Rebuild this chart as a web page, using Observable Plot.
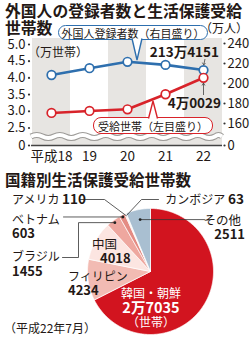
<!DOCTYPE html>
<html><head><meta charset="utf-8">
<script src="https://cdn.jsdelivr.net/npm/d3@7"></script>
<script src="https://cdn.jsdelivr.net/npm/@observablehq/plot@0.6"></script>
<style>
body{margin:0;background:#fff;}
#root{position:relative;width:252px;height:337px;overflow:hidden;font-family:"Noto Sans CJK JP","Noto Sans",sans-serif;color:#231815;}
.abs{position:absolute;white-space:nowrap;line-height:1;}
.box{position:absolute;background:#fff;border-radius:8px;box-sizing:border-box;font-size:11px;display:flex;align-items:center;justify-content:center;white-space:nowrap;}
</style></head><body><div id="root"></div>
<script>
// ---- data ----
const years = ["平成18", "19", "20", "21", "22"];
const welfare = [2.95, 3.01, 3.06, 3.51, 4.0029];            // 受給世帯 (万世帯, left axis)
const registrants = [208.5, 215.3, 221.7, 218.6, 213.4151];   // 外国人登録者数 (万人, right axis)
const leftTicks = [2.5, 3.0, 3.5, 4.0, 4.5, 5.0];
const rightTicks = [160, 180, 200, 220, 240];
const countries = ["韓国・朝鮮", "フィリピン", "中国", "ブラジル", "ベトナム", "アメリカ", "カンボジア", "その他"];
const households = [27035, 4234, 4018, 1455, 603, 110, 63, 2511];
const sliceColors = ["#d2141f", "#f2bbb3", "#fce5e1", "#eea79f", "#e48b83", "#f6d2cc", "#fbe6e2", "#a9bfd1"];

const BLUE = "#2e6fae", RED = "#d8232a", INK = "#231815", STRIPE = "#e7e5e2";
const root = document.getElementById("root");

// ---- line chart (broken dual axis) ----
const pxOfL = d3.scaleLinear([5.0, 2.5], [44, 127.5]);
const pxOfR = d3.scaleLinear([240, 160], [43, 123]);
const rToL = r => pxOfL.invert(pxOfR(r));
const yBottom = pxOfL.invert(145), yTop = pxOfL.invert(38), yWave = pxOfL.invert(136.5);
const leftTickVals = [yBottom, ...leftTicks];
const rightTickVals = [yBottom, ...rightTicks.map(rToL)];
const rLabel = new Map(rightTickVals.map((v, i) => [v, i === 0 ? "0" : String(rightTicks[i - 1])]));
const rows = years.map((y, i) => ({year: y, welfare: welfare[i], reg: rToL(registrants[i])}));

function waveMark(index, scales, values, dims) {
  const x0 = dims.marginLeft, x1 = dims.width - dims.marginRight;
  const y = scales.y(yWave), step = 11.5, amp = 3;
  let d = `M${x0},${y}`, k = 0;
  for (let x = x0; x < x1; x += step, k++) {
    const xe = Math.min(x + step, x1);
    d += ` Q${(x + xe) / 2},${y + (k % 2 ? amp : -amp)} ${xe},${y}`;
  }
  const g = d3.create("svg:g");
  g.append("path").attr("d", d).attr("fill", "none").attr("stroke", "#9d9b98").attr("stroke-width", 6);
  g.append("path").attr("d", d).attr("fill", "none").attr("stroke", "#fff").attr("stroke-width", 4);
  return g.node();
}

const chart1 = Plot.plot({
  width: 252, height: 165, marginTop: 38, marginBottom: 20, marginLeft: 31, marginRight: 30,
  x: {type: "band", domain: years, padding: 0, label: null},
  y: {domain: [yBottom, yTop], label: null},
  style: {fontFamily: '"Noto Sans CJK JP", sans-serif', fontSize: "13px", color: INK, background: "transparent"},
  marks: [
    Plot.barY(years.filter((d, i) => i % 2 === 0), {x: d => d, y1: yWave, y2: yTop, fill: STRIPE}),
    Plot.barY(years, {x: d => d, y1: yBottom, y2: yWave, fill: STRIPE}),
    waveMark,
    Plot.ruleY([yBottom], {stroke: "#444", strokeWidth: 1.3}),
    Plot.axisY({ticks: leftTickVals, tickSize: 0, tickPadding: 6, fontSize: 13, fill: INK,
      tickFormat: d => d === yBottom ? "0" : d3.format(".1f")(d), label: null}),
    Plot.dot(leftTickVals, {y: d => d, frameAnchor: "left", dx: -2.5, r: 1.1, fill: "#333"}),
    Plot.axisY({anchor: "right", ticks: rightTickVals, tickSize: 0, tickPadding: 5, fontSize: 13, fill: INK,
      tickFormat: d => rLabel.get(d), label: null}),
    Plot.dot(rightTickVals, {y: d => d, frameAnchor: "right", dx: 2, r: 1.1, fill: "#333"}),
    Plot.axisX({tickSize: 0, tickPadding: 6, fontSize: 13.5, fill: INK, label: null}),
    Plot.line(rows, {x: "year", y: "reg", stroke: BLUE, strokeWidth: 2.6}),
    Plot.dot(rows, {x: "year", y: "reg", r: 4.3, fill: "#fff", stroke: BLUE, strokeWidth: 1.7}),
    Plot.line(rows, {x: "year", y: "welfare", stroke: RED, strokeWidth: 2.6}),
    Plot.dot(rows, {x: "year", y: "welfare", r: 4.3, fill: "#fff", stroke: RED, strokeWidth: 1.7})
  ]
});
chart1.style.position = "absolute"; chart1.style.left = "0px"; chart1.style.top = "0px";
root.appendChild(chart1);

// ---- pie chart ----
const PIE_TOP = 165, CX = 150, CY = 106, R = 63;
const pieData = countries.map((c, i) => ({country: c, value: households[i], color: sliceColors[i]}));
const arcs = d3.pie().sort(null).value(d => d.value)(pieData);
const pt = (a, f) => ({x: CX + R * f * Math.sin(a), y: CY - R * f * Math.cos(a)});
const slicePolys = arcs.map(a => {
  const pts = [{x: CX, y: CY}];
  const n = Math.max(2, Math.ceil((a.endAngle - a.startAngle) / 0.01));
  for (let k = 0; k <= n; k++) pts.push(pt(a.startAngle + (a.endAngle - a.startAngle) * k / n, 1));
  pts.push({x: CX, y: CY});
  return {color: a.data.color, pts};
});
const mid = name => { const a = arcs.find(d => d.data.country === name); return (a.startAngle + a.endAngle) / 2; };
const pV = pt(mid("ベトナム"), 0.97), pB = pt(mid("ブラジル"), 0.96), pO = pt(mid("その他"), 0.84);
const pA = pt(mid("アメリカ"), 0.97), pK = pt(mid("カンボジア"), 0.97);
const leaders = [
  [{x: 80, y: 34}, {x: 104, y: 34}, pA],
  [{x: 158, y: 34}, {x: 141, y: 34}, pK],
  [{x: 63, y: pV.y}, pV],
  [{x: 62, y: 92}, {x: 78, y: 92}, {x: 78, y: pB.y}, pB],
  [{x: 204, y: pO.y}, pO]
];
const chart2 = Plot.plot({
  width: 252, height: 172, margin: 0,
  x: {domain: [0, 252], range: [0, 252], axis: null},
  y: {domain: [0, 172], range: [0, 172], axis: null},
  style: {background: "transparent"},
  marks: [
    ...slicePolys.map(s => Plot.line(s.pts, {x: "x", y: "y", fill: s.color, stroke: "#fff", strokeWidth: 0.7, strokeLinejoin: "round"})),
    ...leaders.map(l => Plot.line(l, {x: "x", y: "y", stroke: "#333", strokeWidth: 0.8})),
    Plot.dot([pV, pB, pO], {x: "x", y: "y", r: 1.4, fill: "#222"})
  ]
});
chart2.style.position = "absolute"; chart2.style.left = "0px"; chart2.style.top = PIE_TOP + "px";
root.appendChild(chart2);

// ---- text ----
function label(html, x, y, o = {}) {
  const d = document.createElement("div");
  d.className = "abs"; d.innerHTML = html;
  const tx = o.anchor === "middle" ? "-50%" : o.anchor === "end" ? "-100%" : "0";
  Object.assign(d.style, {left: x + "px", top: y + "px", transform: `translate(${tx},-50%)`,
    fontSize: (o.size || 12) + "px", fontWeight: o.weight || 400, color: o.color || INK, textAlign: o.align || "left",
    lineHeight: o.lh || 1});
  root.appendChild(d); return d;
}
function box(text, x, y, w, h, color) {
  const d = document.createElement("div");
  d.className = "box"; d.textContent = text;
  Object.assign(d.style, {left: x + "px", top: y + "px", width: w + "px", height: h + "px", border: `1.4px solid ${color}`, color: INK});
  root.appendChild(d);
}
label("外国人の登録者数と生活保護受給", 5, 11, {size: 15.8, weight: 700});
label("世帯数", 5, 28, {size: 15.8, weight: 700});
label("（万人）", 248, 28, {size: 12, anchor: "end"});
label("（万世帯）", 28, 52, {size: 12});
box("外国人登録者数（右目盛り）", 58, 25, 150, 15, BLUE);
box("受給世帯（左目盛り）", 93, 117, 120, 17, RED);
label("213万4151", 219, 52, {size: 13.5, weight: 700, anchor: "end"});
label("4万0029", 221, 103, {size: 13.5, weight: 700, anchor: "end"});

label("国籍別生活保護受給世帯数", 5, 180, {size: 15.5, weight: 700});
label('アメリカ <b style="font-size:13.5px">110</b>', 12, 199, {size: 12});
label('カンボジア <b style="font-size:13.5px">63</b>', 244, 199, {size: 12, anchor: "end"});
label("ベトナム", 12, 219, {size: 12});
label("603", 12, 232, {size: 13, weight: 700});
label("ブラジル", 12, 256, {size: 12});
label("1455", 12, 270, {size: 13, weight: 700});
label("中国", 92, 244, {size: 12.5});
label("4018", 100, 257, {size: 13, weight: 700});
label("フィリピン", 68, 275.5, {size: 12});
label("4234", 68, 288.5, {size: 13, weight: 700});
label("その他", 241, 219.5, {size: 12.5, anchor: "end"});
label("2511", 245, 232.5, {size: 13, weight: 700, anchor: "end"});
label("韓国・朝鮮", 151, 293, {size: 12, color: "#fff", anchor: "middle"});
label("2万7035", 151, 307, {size: 14.5, weight: 700, color: "#fff", anchor: "middle"});
label("（世帯）", 151, 322, {size: 12, color: "#fff", anchor: "middle"});
label("（平成22年7月）", 4, 328, {size: 12});

// ---- callout tails & small leaders ----
const ov = d3.select(root).append("svg").attr("width", 252).attr("height", 170)
  .style("position", "absolute").style("left", "0px").style("top", "0px");
ov.append("path").attr("d", "M132,38.5 L137,60 L142,38.5").attr("fill", "#fff").attr("stroke", BLUE).attr("stroke-width", 1.4);
ov.append("path").attr("d", "M148.5,118.5 L153,101 L157.5,118.5").attr("fill", "#fff").attr("stroke", RED).attr("stroke-width", 1.4);
ov.append("path").attr("d", "M205,59 L203.8,64.5 M202.3,62.6 L203.8,65 L205.4,63").attr("fill", "none").attr("stroke", "#444").attr("stroke-width", 0.8);
ov.append("path").attr("d", "M203.5,95 L203.5,83 M202,85.5 L203.5,83 L205,85.5").attr("fill", "none").attr("stroke", "#444").attr("stroke-width", 0.8);
</script></body></html>
